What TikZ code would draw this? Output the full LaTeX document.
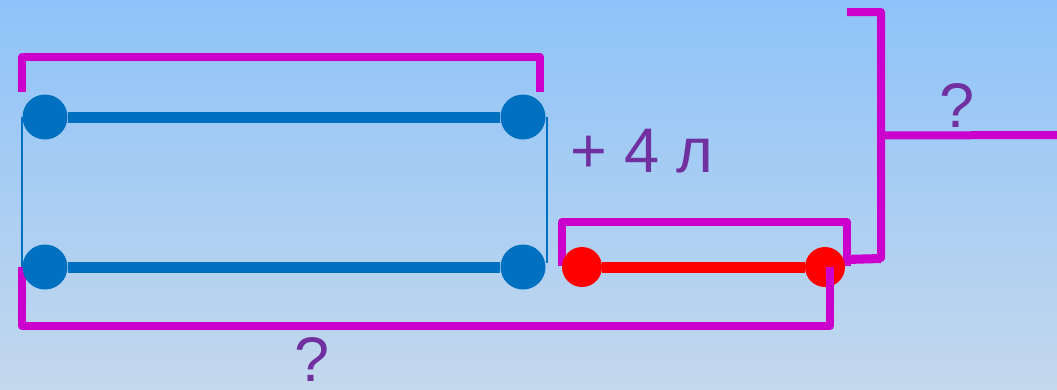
\documentclass[tikz,border=0pt]{standalone}
\usepackage{fontspec}
\setmainfont{Liberation Sans}
\definecolor{bgtop}{RGB}{142,195,249}
\definecolor{bgbot}{RGB}{196,216,237}
\definecolor{segblue}{RGB}{0,112,192}
\definecolor{brmag}{RGB}{204,0,204}
\definecolor{txtpur}{RGB}{112,48,160}
\tikzset{
  bluedot/.style={circle,fill=segblue,minimum size=45pt,inner sep=0pt},
  reddot/.style={circle,fill=red,minimum size=40pt,inner sep=0pt},
  seg/.style={line width=11pt},
  brk/.style={brmag,line width=8pt,line join=round},
  thin/.style={segblue,line width=1.5pt},
  lbl/.style={txtpur,font=\fontsize{63}{68}\selectfont,inner sep=0pt,anchor=base}
}
\begin{document}
\begin{tikzpicture}[x=1pt,y=-1pt]
\shade[top color=bgtop,bottom color=bgbot] (0,0) rectangle (1057,389);
\useasboundingbox (0,0) rectangle (1057,389);
% thin side lines
\coordinate (tl) at (22,117); \coordinate (bl) at (22,267);
\coordinate (tr) at (547,117); \coordinate (br) at (547,263);
\draw[thin] (tl) -- (bl);
\draw[thin] (tr) -- (br);
% magenta brackets
\draw[brk] (22,92) -- (22,57) -- (540,57) -- (540,92);
\draw[brk] (22,267) -- (22,326) -- (830,326) -- (830,267);
\draw[brk] (562,266) -- (562,222) -- (847,222) -- (847,266);
\draw[brk] (847,260) -- (881,259);
\draw[brk] (847,12) -- (881,12) -- (881,258) -- (843,259);
\draw[brk] (881,135.5) -- (1057,135);
% segments
\node[bluedot] (a1) at (45,117) {};
\node[bluedot] (a2) at (523,117) {};
\node[bluedot] (b1) at (45,267) {};
\node[bluedot] (b2) at (523,267) {};
\node[reddot] (r1) at (582,267) {};
\node[reddot] (r2) at (825,267) {};
\draw[seg,segblue] (a1) -- (a2);
\draw[seg,segblue] (b1) -- (b2);
\draw[seg,red] (r1) -- (r2);
\draw[brk] (830,326) -- (830,267);
% labels
\node[lbl] (plus) at (642,172) {+ 4 л};
\node[lbl] (q1) at (957,127) {?};
\node[lbl] (q2) at (312,381) {?};
\end{tikzpicture}
\end{document}
